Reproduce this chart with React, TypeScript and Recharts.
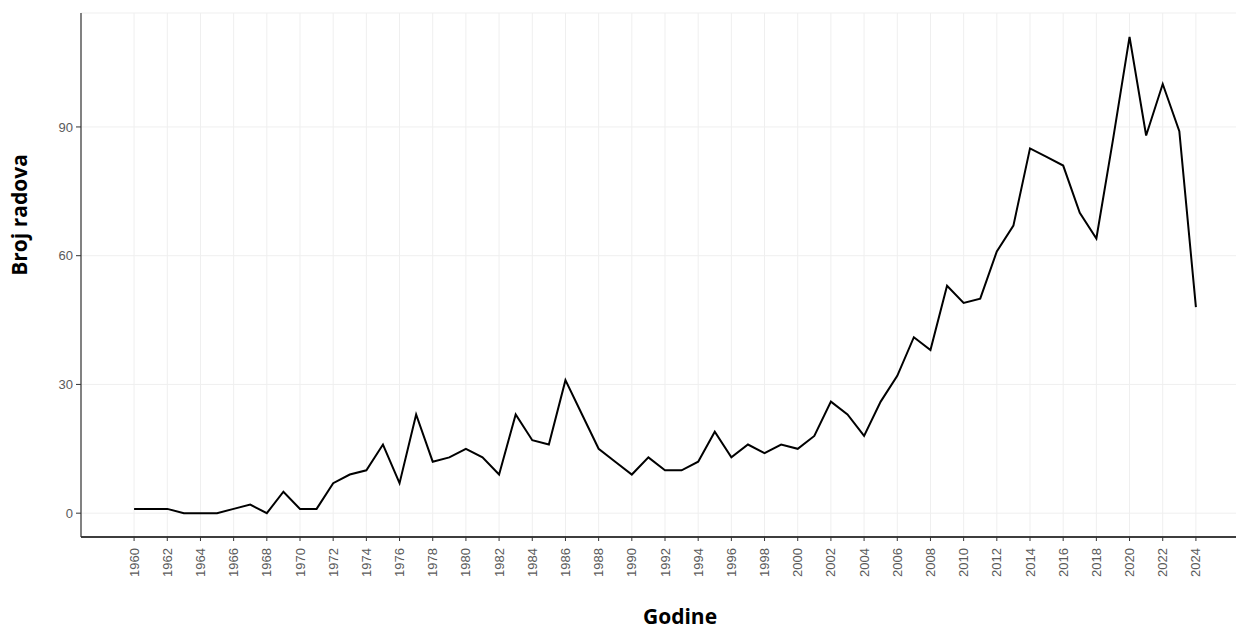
import { LineChart, Line, XAxis, YAxis, CartesianGrid, Label } from 'recharts';

// Godine 1960-2024
const years = [
  1960, 1961, 1962, 1963, 1964, 1965, 1966, 1967, 1968, 1969,
  1970, 1971, 1972, 1973, 1974, 1975, 1976, 1977, 1978, 1979,
  1980, 1981, 1982, 1983, 1984, 1985, 1986, 1987, 1988, 1989,
  1990, 1991, 1992, 1993, 1994, 1995, 1996, 1997, 1998, 1999,
  2000, 2001, 2002, 2003, 2004, 2005, 2006, 2007, 2008, 2009,
  2010, 2011, 2012, 2013, 2014, 2015, 2016, 2017, 2018, 2019,
  2020, 2021, 2022, 2023, 2024,
];

// Broj radova po godini
const papers = [
  1, 1, 1, 0, 0, 0, 1, 2, 0, 5,
  1, 1, 7, 9, 10, 16, 7, 23, 12, 13,
  15, 13, 9, 23, 17, 16, 31, 23, 15, 12,
  9, 13, 10, 10, 12, 19, 13, 16, 14, 16,
  15, 18, 26, 23, 18, 26, 32, 41, 38, 53,
  49, 50, 61, 67, 85, 83, 81, 70, 64, 87,
  111, 88, 100, 89, 48,
];

const xTicks = years.filter((y) => y % 2 === 0);
const yTicks = [0, 30, 60, 90];

const data = years.map((year, i) => ({ year, n: papers[i] }));

const tickFont = '"Liberation Sans", Arial, sans-serif';
const titleFont = '"Open Sans", "Noto Sans", sans-serif';

function YearTick({ x, y, payload }: any) {
  return (
    <g transform={`translate(${x},${y})`}>
      <text
        transform="rotate(-90)"
        x={-5}
        y={0}
        dy="0.35em"
        textAnchor="end"
        fill="#5a5a5a"
        fontSize={13}
        fontFamily={tickFont}
      >
        {payload.value}
      </text>
    </g>
  );
}

export default function App() {
  return (
    <div style={{ position: 'absolute', left: 0, top: 0, width: 1236, height: 630, overflow: 'hidden', background: '#fff' }}>
      <LineChart
        width={1262}
        height={630}
        data={data}
        margin={{ top: 13, right: 13, bottom: 13, left: 21 }}
      >
        <CartesianGrid stroke="#efefef" strokeWidth={1} />
        <XAxis
          dataKey="year"
          type="number"
          domain={[1956.8, 2027.2]}
          ticks={xTicks}
          allowDataOverflow
          interval={0}
          height={80}
          tick={<YearTick />}
          tickSize={4}
          tickMargin={2}
          axisLine={{ stroke: '#000', strokeWidth: 1.6 }}
          tickLine={{ stroke: '#333' }}
        >
          <Label
            content={() => (
              <text x={680} y={624} textAnchor="middle" fontFamily={titleFont} fontWeight={700} fontSize={21} fill="#000">
                Godine
              </text>
            )}
          />
        </XAxis>
        <YAxis
          type="number"
          domain={[-5.55, 116.55]}
          ticks={yTicks}
          allowDataOverflow
          width={60}
          tickSize={5}
          tickMargin={3}
          tick={{ fill: '#5a5a5a', fontSize: 13, fontFamily: tickFont }}
          axisLine={{ stroke: '#333', strokeWidth: 1.2 }}
          tickLine={{ stroke: '#333' }}
        >
          <Label
            content={() => (
              <text
                transform="translate(27,215) rotate(-90)"
                textAnchor="middle"
                fontFamily={titleFont}
                fontWeight={700}
                fontSize={21}
                fill="#000"
              >
                Broj radova
              </text>
            )}
          />
        </YAxis>
        <Line
          type="linear"
          dataKey="n"
          stroke="#000"
          strokeWidth={2}
          dot={false}
          isAnimationActive={false}
        />
      </LineChart>
    </div>
  );
}
